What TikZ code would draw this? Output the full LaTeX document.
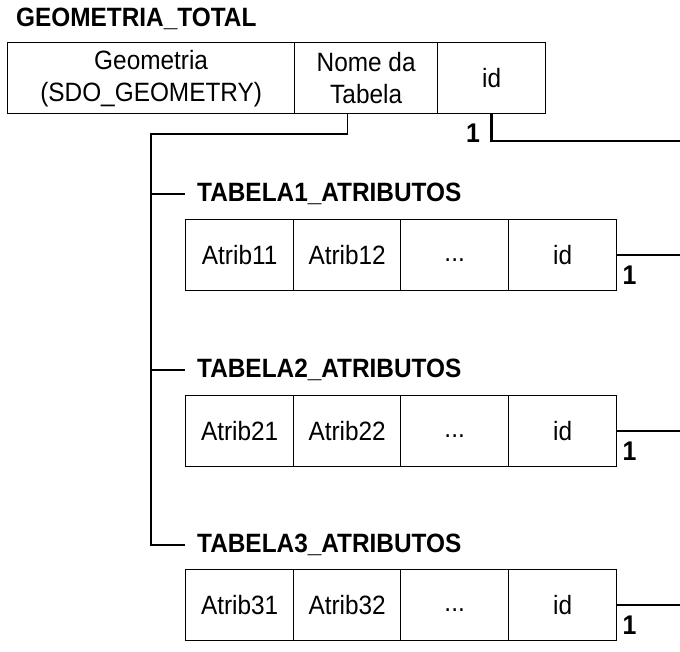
\documentclass[tikz,border=0pt]{standalone}
\usepackage{fontspec}
\setmainfont{Liberation Sans}[FakeStretch=0.92]
\begin{document}
\begin{tikzpicture}[x=1pt,y=-1pt,
  cell/.style={draw, line width=1.3pt, anchor=north west, inner sep=0pt,
    minimum height=71pt, align=center, font=\fontsize{26.5}{32}\selectfont},
  tname/.style={anchor=west, inner sep=0pt, font=\fontsize{26.5}{30}\selectfont\bfseries},
  tree/.style={line width=1.2pt},
  rel/.style={line width=2.4pt},
  card/.style={inner sep=0pt, font=\fontsize{27}{30}\selectfont\bfseries}
]
\useasboundingbox (0,0) rectangle (680,652);
\coordinate (e) at (680,0);

% top table
\node[tname] (t0) at (16,19) {GEOMETRIA\_TOTAL};
\node[cell, minimum width=287pt] (g) at (7,42) {Geometria\\(SDO\_GEOMETRY)};
\node[cell, minimum width=143pt] (n) at (294,42) {Nome da\\Tabela};
\node[cell, minimum width=108pt] (i0) at (437,42) {id};
\coordinate (e0) at (680,141);
\draw[rel] (i0.south) |- (e0);
\node[card] (c0) at (473,133) {1};

% attribute tables
\foreach \k/\T/\L in {1/219/194, 2/395/370, 3/569/545} {
  \node[tname] (t\k) at (197,\L) {TABELA\k\_ATRIBUTOS};
  \node[cell, minimum width=108pt] (a\k) at (185,\T) {Atrib\k1};
  \node[cell, minimum width=107pt] (b\k) at (293,\T) {Atrib\k2};
  \node[cell, minimum width=108pt] (d\k) at (400,\T) {\strut...};
  \node[cell, minimum width=108pt] (i\k) at (508,\T) {id};
  \draw[rel] (i\k.east) -- (i\k.east -| e);
  \node[card, anchor=west] (c\k) at ([xshift=5pt,yshift=-20pt]i\k.east) {1};
}

% tree connector
\coordinate (tj) at (151,134);
\draw[tree] ([xshift=-18.5pt]n.south) |- (tj) |- ([xshift=-12pt]t3.west);
\draw[tree] (tj |- t1.west) -- ([xshift=-12pt]t1.west);
\draw[tree] (tj |- t2.west) -- ([xshift=-12pt]t2.west);
\end{tikzpicture}
\end{document}
